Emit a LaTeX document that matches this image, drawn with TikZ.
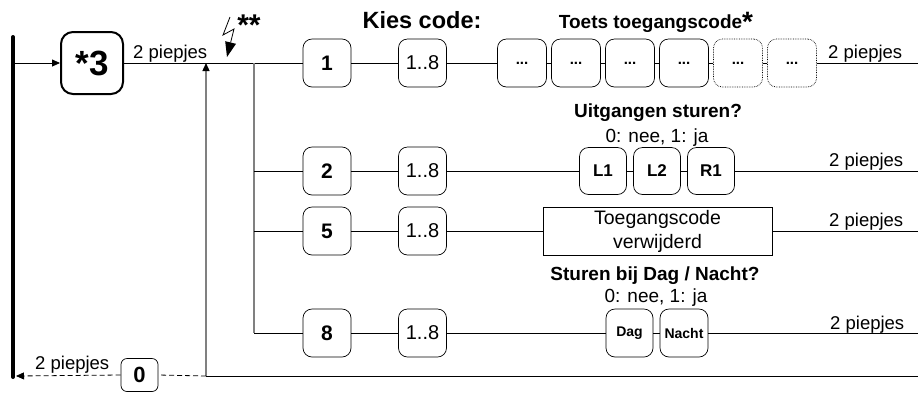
\documentclass[tikz,border=0pt]{standalone}
\usepackage{fontspec}
\setmainfont{Liberation Sans}
\usetikzlibrary{arrows.meta}
\tikzset{
  keybox/.style={draw, rounded corners=9pt, minimum width=48pt, minimum height=48pt, inner sep=0pt, line width=0.7pt, font=\bfseries\fontsize{21}{24}\selectfont},
  rangebox/.style={keybox, font=\fontsize{20}{24}\selectfont},
  digbox/.style={keybox, minimum width=49pt, font=\bfseries\fontsize{15}{18}\selectfont},
  dotbox/.style={digbox, densely dotted},
  outbox/.style={keybox, minimum width=47pt, minimum height=47pt, font=\bfseries\fontsize{17}{20}\selectfont},
  dnbox/.style={keybox, minimum width=47pt, font=\bfseries\fontsize{14}{17}\selectfont},
  beep/.style={anchor=base west, inner sep=0pt, font=\fontsize{18.5}{22}\selectfont},
  title/.style={anchor=base, inner sep=0pt, font=\bfseries\fontsize{19}{22}\selectfont},
  sub/.style={anchor=base, inner sep=0pt, font=\fontsize{19}{22}\selectfont},
  wire/.style={line width=0.8pt},
  gwire/.style={line width=1.3pt, draw=gray},
  tip/.style={-{Triangle[length=8pt,width=7pt]}},
  dashwire/.style={wire, dash pattern=on 5pt off 3pt}
}
\begin{document}
\begin{tikzpicture}[x=1pt,y=-1pt]
\useasboundingbox (0,0) rectangle (918,392);

% left bar
\coordinate (bartop) at (13,37);
\coordinate (barbot) at (13,377);
\coordinate (barin) at (14,63);
\coordinate (barret) at (16,376);
\draw[line width=4pt, line cap=round] (bartop) -- (barbot);

% main key
\node[draw, rounded corners=12pt, minimum width=62pt, minimum height=62pt, inner sep=0pt, line width=2pt, font=\bfseries\fontsize{35}{40}\selectfont] (k3) at (92,63) {*3};

% row 1
\node[keybox] (k1) at (327,63) {1};
\node[rangebox] (r1) at (422.5,63) {1..8};
\node[digbox] (d1) at (522,63) {...};
\node[digbox] (d2) at (576,63) {...};
\node[digbox] (d3) at (630,63) {...};
\node[digbox] (d4) at (684,63) {...};
\node[dotbox] (d5) at (738,63) {...};
\node[dotbox] (d6) at (792,63) {...};

% row 2
\node[keybox] (k2) at (327,171) {2};
\node[rangebox] (r2) at (422.5,171) {1..8};
\node[outbox] (o1) at (603,171) {L1};
\node[outbox] (o2) at (657,171) {L2};
\node[outbox] (o3) at (711,171) {R1};

% row 5
\node[keybox] (k5) at (327,231) {5};
\node[rangebox] (r5) at (422.5,231) {1..8};
\node[draw, line width=0.7pt, minimum width=229pt, minimum height=48pt, inner sep=0pt, align=center, font=\fontsize{19.5}{24}\selectfont] (del) at (657.5,231) {Toegangscode\\verwijderd};

% row 8
\node[keybox] (k8) at (327,333) {8};
\node[rangebox] (r8) at (422.5,333) {1..8};
\node[dnbox] (dag) at (629.5,333) {Dag};
\node[dnbox, minimum width=48pt] (nacht) at (684,333) {Nacht};

% exit key
\node[draw, rounded corners=6pt, minimum width=37pt, minimum height=33pt, inner sep=0pt, line width=0.7pt, fill=white, font=\bfseries\fontsize{22}{24}\selectfont] (k0) at (139.5,375) {0};

% coordinates
\coordinate (ret) at (206,63);
\coordinate (retb) at (206,376);
\coordinate (jt) at (254,63);
\coordinate (j2) at (254,171);
\coordinate (j5) at (254,231);
\coordinate (j8) at (254,333);
\coordinate (e1) at (918,63);
\coordinate (e2) at (918,171);
\coordinate (e5) at (918,231);
\coordinate (e8) at (918,333);
\coordinate (eb) at (918,376);

% connectors
\draw[wire, tip] (barin) -- (k3.west);
\draw[wire] (k3.east) -- (k1.west);
\draw[gwire] (jt) -- (j8);
\draw[wire] (j2) -- (k2.west);
\draw[wire] (j5) -- (k5.west);
\draw[wire] (j8) -- (k8.west);

\draw[wire] (k1.east) -- (r1.west);
\draw[wire] (r1.east) -- (d1.west);
\draw[wire] (d1.east) -- (d2.west);
\draw[wire] (d2.east) -- (d3.west);
\draw[wire] (d3.east) -- (d4.west);
\draw[wire] (d4.east) -- (d5.west);
\draw[wire] (d5.east) -- (d6.west);
\draw[wire] (d6.east) -- (e1);

\draw[wire] (k2.east) -- (r2.west);
\draw[wire] (r2.east) -- (o1.west);
\draw[wire] (o1.east) -- (o2.west);
\draw[wire] (o2.east) -- (o3.west);
\draw[wire] (o3.east) -- (e2);

\draw[wire] (k5.east) -- (r5.west);
\draw[wire] (r5.east) -- (del.west);
\draw[wire] (del.east) -- (e5);

\draw[wire] (k8.east) -- (r8.west);
\draw[wire] (r8.east) -- (dag.west);
\draw[wire] (dag.east) -- (nacht.west);
\draw[wire] (nacht.east) -- (e8);

\draw[wire] (eb) -- (retb);
\draw[gwire, -{Triangle[length=8pt,width=7pt,color=black]}] (retb) -- (ret);
\draw[dashwire] (retb) -- (k0.east);
\draw[dashwire, tip] (k0.west) -- (barret);

% lightning
\coordinate (l1) at (230,17);
\coordinate (l2) at (223,35);
\coordinate (l3) at (234,29);
\coordinate (l4) at (227,57);
\coordinate (lb) at (230.6,42.5);
\coordinate (lc1) at (236,43.8);
\coordinate (lc2) at (225.2,41.2);
\draw[line width=0.8pt, line join=miter] (l1) -- (l2) -- (l3) -- (lb);
\fill (l4) -- (lc1) -- (lc2) -- cycle;
\node[anchor=base, inner sep=0pt, font=\bfseries\fontsize{30}{30}\selectfont] (stars) at (249,35) {**};

% labels
\node[beep] (b0) at (133,58) {2 piepjes};
\node[beep] (b1) at (828,58) {2 piepjes};
\node[beep] (b2) at (829,166) {2 piepjes};
\node[beep] (b5) at (829,226) {2 piepjes};
\node[beep] (b8) at (830,329) {2 piepjes};
\node[beep] (bb) at (35,369) {2 piepjes};

\node[anchor=base, inner sep=0pt, font=\bfseries\fontsize{23.5}{26}\selectfont] (kies) at (422,28) {Kies code:};
\node[title] (toets) at (656,28) {Toets toegangscode\raisebox{-3pt}{\fontsize{28}{28}\selectfont*}};
\node[title] (uit) at (658,117) {Uitgangen sturen?};
\node[sub] (uitn) at (657,142) {0: nee, 1: ja};
\node[title] (dn) at (655,280) {Sturen bij Dag / Nacht?};
\node[sub] (dnn) at (656,302) {0: nee, 1: ja};
\end{tikzpicture}
\end{document}
